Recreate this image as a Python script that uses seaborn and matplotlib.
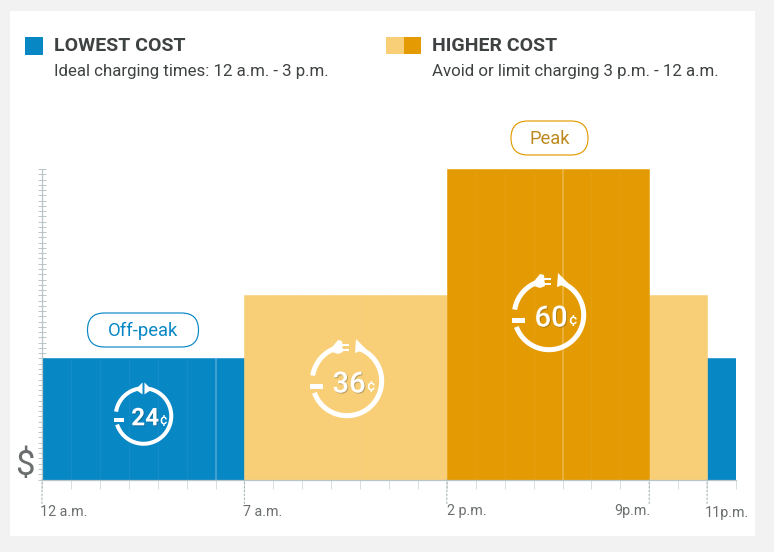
import numpy as np
import matplotlib
matplotlib.use("Agg")
import matplotlib.pyplot as plt
import matplotlib.patheffects as pe
from matplotlib.patches import FancyBboxPatch, Polygon, Rectangle
import seaborn as sns

# Hourly electricity rate, cents per kWh
hours = ["12 a.m.", "1 a.m.", "2 a.m.", "3 a.m.", "4 a.m.", "5 a.m.", "6 a.m.",
         "7 a.m.", "8 a.m.", "9 a.m.", "10 a.m.", "11 a.m.", "12 p.m.", "1 p.m.",
         "2 p.m.", "3 p.m.", "4 p.m.", "5 p.m.", "6 p.m.", "7 p.m.", "8 p.m.",
         "9 p.m.", "10 p.m.", "11 p.m."]
rates = [24] * 7 + [36] * 7 + [60] * 7 + [36] * 2 + [24]
tiers = ["off"] * 7 + ["mid"] * 7 + ["peak"] * 7 + ["mid"] * 2 + ["off"]
tier_colors = {"off": "#0887c5", "mid": "#f8cf77", "peak": "#e49b03"}

boundary_labels = ["12 a.m.", "7 a.m.", "2 p.m.", "9p.m.", "11p.m."]
boundary_hours = [0, 7, 14, 21, 23]

W, H = 774, 552
FONT = "Roboto"
TEXT = "#3f4242"
GREY = "#6a6e6e"
AXIS = "#b9c6c8"

sns.set_theme(style="white")
plt.rcParams["font.family"] = [FONT, "DejaVu Sans"]

fig = plt.figure(figsize=(W / 100, H / 100), dpi=100, facecolor="#f2f2f2")
fig.add_artist(Rectangle((10 / W, 1 - 536 / H), 745 / W, 525 / H,
                         transform=fig.transFigure, fc="white", ec="none", zorder=-5))

ax = fig.add_axes([42 / W, 1 - 479.5 / H, 694 / W, 310.5 / H], facecolor="none")
sns.barplot(x=hours, y=rates, hue=tiers, palette=tier_colors, order=hours,
            width=1, dodge=False, saturation=1, legend=False, ax=ax)
for bar in ax.patches:
    bar.set_edgecolor(bar.get_facecolor())
    bar.set_linewidth(0.4)

ax.set_xlim(-0.5, 23.5)
ax.set_ylim(1, 60)
ax.set_xlabel("")
ax.set_ylabel("")
ax.set_yticks(np.arange(1, 61))
ax.set_yticklabels([])
ax.tick_params(axis="y", which="major", left=True, direction="inout", length=8 * 0.72,
               width=0.7, color=AXIS)
ax.set_xticks(np.arange(-0.5, 24.5))
ax.set_xticklabels([])
ax.tick_params(axis="x", which="major", bottom=True, direction="out", length=9 * 0.72,
               width=0.7, color="#d8dfdf", pad=0)
for side in ("top", "right"):
    ax.spines[side].set_visible(False)
for side in ("left", "bottom"):
    ax.spines[side].set_color(AXIS)
    ax.spines[side].set_linewidth(0.9)

# Rate-change markers and their time labels under the axis
label_offsets = [(-2, "left", 32), (-1, "left", 32), (0, "left", 32), (1, "right", 32), (-2, "left", 34)]
for hour, text, (dx, ha, dy) in zip(boundary_hours, boundary_labels, label_offsets):
    x = hour - 0.5
    ax.annotate("", xy=(x, 1), xycoords="data", xytext=(0, -24 * 0.72), textcoords="offset points",
                arrowprops=dict(arrowstyle="-", color="#aab5b6", lw=0.8, ls=(0, (1.5, 2)),
                                shrinkA=0, shrinkB=0), annotation_clip=False)
    ax.annotate(text, xy=(x, 1), xycoords="data", xytext=(dx * 0.72, -dy * 0.72),
                textcoords="offset points", ha=ha, va="center", fontsize=10.3,
                color=GREY, annotation_clip=False)

# Overlay in pixel coordinates for the legend, pills and rate badges
ov = fig.add_axes([0, 0, 1, 1], facecolor="none")
ov.set_xlim(0, W)
ov.set_ylim(H, 0)
ov.axis("off")


def pill(x0, y0, x1, y1, color, text, text_color):
    ov.add_patch(FancyBboxPatch((x0, y0), x1 - x0, y1 - y0,
                                boxstyle=f"round,pad=0,rounding_size={(y1 - y0) / 2}",
                                fc="white", ec=color, lw=0.85))
    ov.text((x0 + x1) / 2, (y0 + y1) / 2 + 0.5, text, ha="center", va="center",
            fontsize=13.2, color=text_color)


def ring_arc(cx, cy, r, start, stop, lw):
    t = np.radians(np.linspace(start, stop, 80))
    ov.plot(cx + r * np.cos(t), cy - r * np.sin(t), color="white", lw=lw * 0.72,
            solid_capstyle="butt")


def badge(cx, cy, s, value, size, cent_size, weight, closed_top=False):
    """Circular charging arrow with a plug, holding the rate in cents."""
    r = 34.7 * s
    lw = 5.0 * s
    def shape(points):
        ov.add_patch(Polygon([(cx + px * s, cy + py * s) for px, py in points], fc="white", ec="none"))
    if closed_top:
        ring_arc(cx, cy, r, 80, -162, lw)
        ring_arc(cx, cy, r, 171, 100, lw)
        shape([(-10, -33), (-1.2, -42), (-1.2, -27)])
        shape([(1.2, -42), (10, -33), (1.2, -27)])
        shape([(-37, 3), (-24, 3), (-24, 7.5), (-37, 7.5)])
    else:
        ring_arc(cx, cy, r, 68, -160, lw)
        ring_arc(cx, cy, r, 171, 108, lw)
        shape([(-18, -30), (-9, -41), (-5, -40), (-4, -29), (-9, -27)])
        shape([(-5, -37.5), (2, -37.5), (2, -35), (-5, -35)])
        shape([(-5, -32.5), (2, -32.5), (2, -30), (-5, -30)])
        shape([(9, -42), (8, -28), (19, -32)])
        shape([(-37, 3), (-24, 3), (-24, 7.5), (-37, 7.5)])
    shadow = [pe.withSimplePatchShadow(offset=(0.7, -0.7), shadow_rgbFace="#333333", alpha=0.3)]
    num = ov.text(cx + 2 * s, cy + 3.5 * s, str(value), ha="center", va="center", fontsize=size,
                  color="white", fontweight=weight, path_effects=shadow)
    ov.text(cx + 24 * s, cy + 4.5 * s, "¢", ha="center", va="center", fontsize=cent_size,
            color="white", fontweight="medium")


# Legend
ov.add_patch(Rectangle((25, 37), 18, 17.5, fc=tier_colors["off"], ec="none"))
ov.add_patch(Rectangle((386, 36.5), 18, 17.5, fc=tier_colors["mid"], ec="none"))
ov.add_patch(Rectangle((404, 36.5), 17, 17.5, fc=tier_colors["peak"], ec="none"))
ov.text(54, 46, "LOWEST COST", fontsize=14, fontweight="bold", color=TEXT, va="center")
ov.text(432, 46, "HIGHER COST", fontsize=14, fontweight="bold", color=TEXT, va="center")
ov.text(54, 71.5, "Ideal charging times: 12 a.m. - 3 p.m.", fontsize=12.2, color=TEXT, va="center")
ov.text(432, 71.5, "Avoid or limit charging 3 p.m. - 12 a.m.", fontsize=12.2, color=TEXT, va="center")

pill(87.5, 313, 198.5, 347, tier_colors["off"], "Off-peak", tier_colors["off"])
pill(511, 121, 588, 155, tier_colors["peak"], "Peak", "#bd8a20")

badge(143.5, 416, 0.8, rates[0], 17.5, 10, "bold", closed_top=True)
badge(347, 381, 1.0, rates[7], 21, 11, "medium")
badge(549, 315, 1.0, rates[14], 21, 11, "medium")

ov.text(24.5, 466, "$", ha="center", va="center", fontsize=25, color=GREY)

fig.savefig("out.png", dpi=100, facecolor=fig.get_facecolor())
